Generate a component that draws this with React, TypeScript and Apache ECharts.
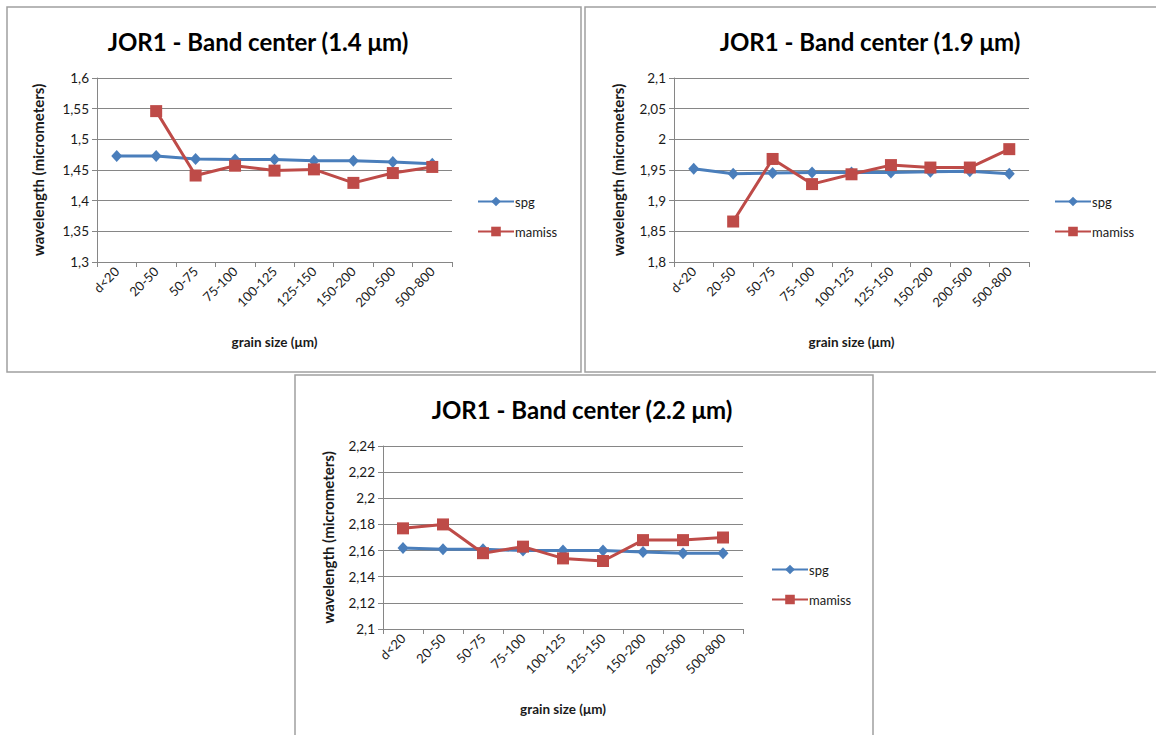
import React, { useRef, useEffect } from 'react';
import * as echarts from 'echarts';

const categories = ['d<20', '20-50', '50-75', '75-100', '100-125', '125-150', '150-200', '200-500', '500-800'];

// band center 1.4 µm
const spg14 = [1.473, 1.473, 1.468, 1.467, 1.467, 1.465, 1.465, 1.463, 1.46];
const mamiss14 = [null, 1.546, 1.441, 1.457, 1.449, 1.451, 1.429, 1.445, 1.455];

// band center 1.9 µm
const spg19 = [1.952, 1.944, 1.945, 1.946, 1.946, 1.946, 1.947, 1.948, 1.944];
const mamiss19 = [null, 1.866, 1.968, 1.927, 1.943, 1.958, 1.954, 1.954, 1.984];

// band center 2.2 µm
const spg22 = [2.162, 2.161, 2.161, 2.16, 2.16, 2.16, 2.159, 2.158, 2.158];
const mamiss22 = [2.177, 2.18, 2.158, 2.163, 2.154, 2.152, 2.168, 2.168, 2.17];

const titles = [
  'JOR1 - Band center (1.4 \u03bcm)',
  'JOR1 - Band center (1.9 \u03bcm)',
  'JOR1 - Band center (2.2 \u03bcm)',
];

const yRanges = [
  { min: 1.3, max: 1.6, interval: 0.05 },
  { min: 1.8, max: 2.1, interval: 0.05 },
  { min: 2.1, max: 2.24, interval: 0.02 },
];

const FONT = 'Lato';
const BLUE = '#4a7ebb';
const RED = '#be4b48';
const GRID_GRAY = '#868686';
const TEXT = '#1a1a1a';

const fmt = (v: number) => String(parseFloat(v.toFixed(2))).replace('.', ',');

const App: React.FC = () => {
  const chartRef = useRef<HTMLDivElement>(null);

  useEffect(() => {
    if (!chartRef.current) return;
    const chart = echarts.init(chartRef.current, null, { renderer: 'svg' });

    // panel layout: grid box, title pos, legend pos
    const panels = [
      { grid: { left: 97, top: 78, width: 355, height: 184 }, title: [258, 41], legend: [472, 190], yGap: 52 },
      { grid: { left: 674, top: 78, width: 355, height: 184 }, title: [870, 41], legend: [1049, 190], yGap: 49 },
      { grid: { left: 383, top: 446, width: 360, height: 183 }, title: [582, 409], legend: [766, 558], yGap: 48 },
    ];

    const seriesData = [
      [spg14, mamiss14],
      [spg19, mamiss19],
      [spg22, mamiss22],
    ];

    const options: any = {
      animation: false,
      backgroundColor: '#fff',
      textStyle: { fontFamily: FONT },
      grid: panels.map((p) => ({ ...p.grid, containLabel: false })),
      xAxis: panels.map((_, i) => ({
        type: 'category',
        gridIndex: i,
        data: categories,
        boundaryGap: true,
        name: 'grain size (\u03bcm)',
        nameLocation: 'middle',
        nameGap: 73,
        nameTextStyle: { fontFamily: FONT, fontWeight: 'bold', fontSize: 13.5, color: TEXT },
        axisLine: { show: true, lineStyle: { color: GRID_GRAY, width: 1 } },
        axisTick: { show: true, interval: 0, alignWithLabel: false, length: 5, lineStyle: { color: GRID_GRAY } },
        axisLabel: { interval: 0, rotate: 45, fontSize: 13, color: TEXT, fontFamily: FONT, margin: 7 },
        splitLine: { show: false },
      })),
      yAxis: panels.map((p, i) => ({
        type: 'value',
        gridIndex: i,
        min: yRanges[i].min,
        max: yRanges[i].max,
        interval: yRanges[i].interval,
        name: 'wavelength (micrometers)',
        nameLocation: 'middle',
        nameGap: p.yGap,
        nameRotate: 90,
        nameTextStyle: { fontFamily: FONT, fontWeight: 'bold', fontSize: 15, color: TEXT },
        axisLine: { show: true, lineStyle: { color: GRID_GRAY, width: 1 } },
        axisTick: { show: true, length: 5, lineStyle: { color: GRID_GRAY } },
        axisLabel: { formatter: fmt, fontSize: 13.5, color: TEXT, fontFamily: FONT, margin: 8 },
        splitLine: { show: true, lineStyle: { color: GRID_GRAY, width: 1 } },
      })),
      legend: panels.map((p) => ({
        orient: 'vertical',
        left: p.legend[0],
        top: p.legend[1],
        itemWidth: 36,
        itemHeight: 12,
        itemGap: 17,
        data: ['spg', 'mamiss'],
        textStyle: { fontFamily: FONT, fontSize: 13, color: TEXT, padding: [0, 0, 0, -4] },
      })),
      series: seriesData.flatMap((pair, i) => [
        {
          name: 'spg',
          type: 'line',
          xAxisIndex: i,
          yAxisIndex: i,
          data: pair[0],
          symbol: 'diamond',
          symbolSize: [11, 12],
          lineStyle: { color: BLUE, width: 3 },
          itemStyle: { color: BLUE },
          z: 2,
        },
        {
          name: 'mamiss',
          type: 'line',
          xAxisIndex: i,
          yAxisIndex: i,
          data: pair[1],
          symbol: 'rect',
          symbolSize: 12,
          lineStyle: { color: RED, width: 3 },
          itemStyle: { color: RED },
          z: 3,
        },
      ]),
      graphic: [
        { type: 'rect', shape: { x: 7, y: 7, width: 574, height: 365 }, style: { fill: 'none', stroke: '#a0a0a0', lineWidth: 1.5 }, silent: true },
        { type: 'rect', shape: { x: 585, y: 7, width: 580, height: 365 }, style: { fill: 'none', stroke: '#a0a0a0', lineWidth: 1.5 }, silent: true },
        { type: 'rect', shape: { x: 295, y: 375, width: 578, height: 370 }, style: { fill: 'none', stroke: '#a0a0a0', lineWidth: 1.5 }, silent: true },
        ...panels.map((p, i) => ({
          type: 'text',
          x: p.title[0],
          y: p.title[1],
          silent: true,
          style: {
            text: titles[i],
            fontFamily: FONT,
            fontWeight: 'bold',
            fontSize: 24,
            fill: '#000',
            textAlign: 'center',
            textVerticalAlign: 'middle',
          },
        })),
      ],
    };

    chart.setOption(options);

    return () => {
      chart.dispose();
    };
  }, []);

  return (
    <div
      ref={chartRef}
      style={{ position: 'fixed', left: 0, top: 0, width: 1156, height: 735, background: '#fff' }}
    />
  );
};

export default App;
